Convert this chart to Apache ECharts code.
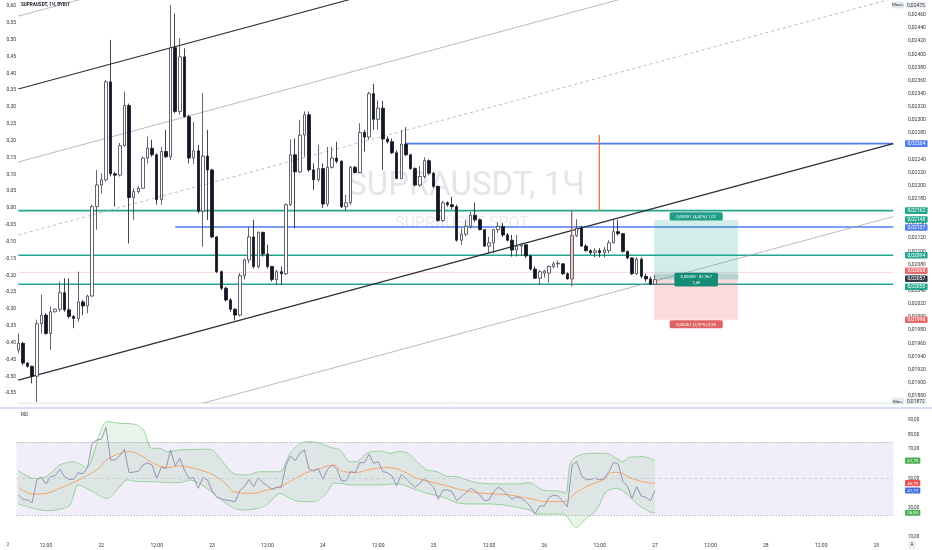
<!DOCTYPE html>
<html><head><meta charset="utf-8">
<script src="https://cdn.jsdelivr.net/npm/echarts@6/dist/echarts.min.js"></script>
<style>html,body{margin:0;padding:0;background:#fff}#c{width:932px;height:550px}</style>
</head><body><div id="c"></div>
<script>
// ---------- DATA ----------
const UNIT = 1e-5;            // prices below are in units of 0.00001
const startDay = 21, startHour = 6, nCats = 192;
// hourly candles [open, high, low, close]
const candles = [
[1950,1975,1945,1960],[1960,1962,1927,1930],[1930,1931,1923,1925],[1925,1926,1899,1910],[1910,1996,1871,1990],
[1990,2034,1975,2003],[2003,2006,1973,1975],[1975,2016,1950,2008],[2008,2013,2007,2012],[2012,2054,2008,2037],
[2037,2059,2008,2011],[2011,2059,1998,2001],[2001,2003,1983,1998],[1998,2069,1993,2023],[2023,2026,2003,2017],
[2017,2034,2006,2032],[2032,2171,2031,2168],[2168,2224,2133,2201],[2201,2219,2188,2209],[2209,2361,2206,2358],
[2358,2422,2214,2218],[2218,2221,2168,2216],[2216,2265,2214,2261],[2261,2343,2259,2322],[2322,2325,2112,2182],
[2182,2196,2148,2191],[2191,2199,2188,2196],[2196,2244,2195,2242],[2242,2275,2234,2257],[2257,2270,2244,2247],
[2247,2249,2171,2179],[2179,2259,2171,2252],[2252,2285,2242,2244],[2244,2475,2239,2410],[2410,2462,2310,2313],
[2313,2424,2308,2396],[2396,2409,2304,2305],[2305,2308,2234,2242],[2242,2297,2233,2253],[2253,2262,2158,2161],
[2161,2341,2107,2245],[2245,2285,2148,2224],[2224,2226,2120,2122],[2122,2123,2067,2069],[2069,2071,2041,2044],
[2044,2046,2024,2026],[2026,2029,2008,2012],[2012,2013,1995,2003],[2003,2067,2001,2063],[2063,2089,2057,2087],
[2087,2137,2082,2122],[2122,2148,2074,2077],[2077,2130,2074,2129],[2129,2130,2092,2096],[2096,2110,2074,2077],
[2077,2078,2054,2057],[2057,2072,2049,2069],[2069,2077,2049,2066],[2066,2173,2064,2171],[2171,2270,2169,2247],
[2247,2272,2135,2221],[2221,2300,2219,2277],[2277,2313,2244,2308],[2308,2313,2221,2224],[2224,2234,2193,2209],
[2209,2262,2206,2226],[2226,2234,2166,2172],[2172,2259,2168,2228],[2228,2259,2226,2242],[2242,2267,2234,2237],
[2237,2239,2166,2168],[2168,2186,2162,2174],[2174,2230,2171,2228],[2228,2230,2219,2220],[2220,2295,2219,2281],
[2281,2285,2252,2274],[2274,2343,2270,2340],[2340,2355,2285,2301],[2301,2330,2285,2318],[2318,2329,2224,2271],
[2271,2275,2264,2267],[2267,2272,2248,2250],[2250,2254,2210,2211],[2211,2285,2210,2263],[2263,2289,2245,2247],
[2247,2248,2224,2226],[2226,2228,2199,2201],[2201,2230,2198,2214],[2214,2243,2211,2238],[2238,2240,2216,2219],
[2219,2221,2196,2199],[2199,2200,2145,2147],[2147,2177,2145,2174],[2174,2176,2168,2171],[2171,2183,2164,2168],
[2168,2171,2115,2117],[2117,2135,2110,2126],[2126,2148,2123,2138],[2138,2160,2135,2155],[2155,2174,2145,2148],
[2148,2150,2132,2133],[2133,2134,2107,2108],[2108,2122,2097,2113],[2113,2134,2097,2133],[2133,2145,2128,2138],
[2138,2143,2122,2125],[2125,2128,2115,2117],[2117,2125,2092,2102],[2102,2125,2092,2108],[2108,2113,2093,2110],
[2110,2110,2090,2093],[2093,2095,2071,2073],[2073,2077,2058,2059],[2059,2072,2050,2069],[2067,2072,2060,2070],
[2067,2079,2052,2077],[2077,2084,2074,2081],[2081,2086,2075,2082],[2081,2082,2064,2066],[2066,2068,2057,2058],
[2058,2163,2047,2124],[2124,2149,2122,2135],[2135,2139,2107,2108],[2108,2111,2100,2101],[2101,2103,2095,2098],
[2098,2105,2091,2101],[2101,2105,2091,2098],[2098,2107,2091,2102],[2101,2117,2097,2113],[2113,2148,2112,2130],
[2130,2148,2124,2127],[2127,2128,2098,2100],[2100,2101,2088,2090],[2090,2091,2064,2066],[2066,2091,2064,2088],
[2088,2091,2059,2062],[2062,2066,2054,2058],[2058,2062,2049,2050],[2050,2064,2049,2057]
];
// RSI per candle
const rsi = [
38.7,35.8,35.3,33.5,49.0,50.8,46.3,51.3,51.9,56.3,
51.3,49.4,49.4,54.0,53.1,57.6,74.0,76.3,76.8,85.0,
62.7,62.7,65.6,70.0,54.0,54.4,54.9,59.2,60.8,59.2,
50.1,57.6,56.9,69.5,58.6,63.8,55.8,50.1,50.6,43.3,
50.6,49.0,41.5,37.1,36.0,35.3,34.8,34.2,41.7,44.4,
49.4,44.4,50.6,47.2,44.9,42.6,44.0,44.0,59.2,65.4,
62.2,67.2,69.5,56.3,55.1,56.9,49.4,56.3,59.2,56.9,
48.4,48.3,54.7,54.0,60.8,60.8,66.7,60.4,61.5,54.7,
54.0,51.7,44.9,52.8,50.1,46.7,44.0,46.7,50.1,47.2,
44.0,35.8,42.1,42.1,41.0,34.8,37.6,40.3,43.3,41.7,
38.7,34.8,35.3,41.0,44.0,42.1,38.7,35.8,37.6,36.4,
34.2,30.7,25.7,31.2,31.2,37.1,38.7,38.0,34.2,30.7,
59.2,61.5,52.4,49.0,49.4,50.1,49.0,50.1,54.7,61.0,
59.9,47.8,44.9,36.4,44.4,38.0,37.1,34.8,41.8
];
// RSI moving average [candle index, value]
const rsiMA = [[0,44.0],[3.3,39.4],[6.1,39.9],[9,43.3],[11.9,47.2],[14.8,51.7],[17.7,57.6],[19.2,62.7],[22,67.2],[24.2,68.3],
[26.4,66.1],[29.3,60.4],[32.2,57.6],[35,58.6],[36.5,58.1],[39.4,55.8],[42.3,52.4],[45.2,45.6],[46.6,41.0],[50.9,39.9],
[53.8,42.1],[56.7,44.4],[59.6,49.4],[62.5,54.0],[65.4,56.9],[68.3,59.2],[70.5,54.7],[73.3,54.2],[76.2,56.3],[80.6,57.4],
[83.5,54.7],[86.4,50.1],[89.2,47.8],[92.1,45.6],[95,43.1],[97.9,41.0],[100.8,39.9],[103.6,39.4],[106.5,38.7],[109.4,37.1],
[112.3,35.3],[113.7,34.2],[118.1,34.2],[120.9,40.3],[123.8,45.6],[126.7,49.0],[128.9,54.2],[130.3,54.0],[132.4,50.8],[135.3,47.8],[138,46.79]];
// RSI bollinger bands [candle index, value]
const bandUpper = [[0,55.4],[3.3,50.1],[6.1,51.3],[9,59.2],[11.9,61.5],[14.8,57.6],[17.7,80.9],[19.2,88.9],[22,87.7],[24.9,87.3],
[27.1,83.2],[28.9,70.6],[30.7,70.6],[32.2,68.3],[35,69.5],[39.4,70.0],[41.6,70.0],[43.7,63.8],[46.6,53.5],[49.5,52.4],
[52.4,54.7],[56.7,54.7],[58.9,67.2],[61.1,74.0],[63.2,75.2],[65.4,74.0],[67.6,71.3],[69.7,69.5],[71.9,61.5],[73.3,61.5],
[75.5,67.2],[78.4,68.8],[80.6,67.2],[82,68.3],[84.2,67.7],[86.4,61.5],[88.5,55.8],[90.7,54.7],[92.8,51.7],[95,51.3],
[97.2,49.0],[99.3,47.2],[103.6,46.3],[107.9,46.3],[110.8,47.2],[113.7,42.1],[116.6,41.5],[118.6,40.3],[119.5,59.2],[120.9,64.9],
[123.8,67.2],[127.4,67.2],[129.6,63.8],[131,61.5],[132.4,64.5],[135.3,64.9],[138,62.18]];
const bandLower = [[0,32.6],[3.3,29.6],[6.1,28.0],[9,28.9],[11.2,31.9],[13,45.6],[15.5,42.1],[19.2,36.4],[22,44.4],[23.5,49.0],
[26.4,47.8],[29.3,47.8],[32.2,47.2],[35,47.2],[37.2,49.0],[39.4,46.3],[42.3,39.9],[45.2,32.6],[48.1,28.5],[50.9,28.9],
[53.8,31.9],[56.7,39.9],[58.9,36.4],[61.1,34.2],[64,34.2],[66.8,39.9],[68.3,46.7],[69.7,46.7],[71.9,45.6],[74.8,45.6],
[78.4,45.6],[82,46.3],[86.4,42.1],[89.2,39.4],[92.1,37.1],[95,33.5],[97.9,32.6],[102.2,32.6],[105.1,31.9],[108,30.3],
[110.8,28.5],[112.3,25.7],[115.2,25.7],[118.1,25.7],[120.9,16.6],[123.1,22.8],[125.3,28.5],[127.4,41.0],[129.6,43.3],[131.7,39.9],
[133.9,33.0],[136.8,27.3],[138,26.59]];
// drawings (candle index, price units)
const levelsGreen = [2162, 2094, 2050];
const levelPink = 2068;
const levelsBlue = [[83.8, 2264], [34, 2137]];   // [start index, price]
const drawEnd = 189.6;
const channelStart = [2458, 2347, 2236, 2125, 1904, 1793]; // at index 0
const channelEnd   = [2818, 2707, 2596, 2485, 2264, 2153]; // at drawEnd
const channelStyle = ['thin','bold','thin','dash','bold','thin'];
const vOrange = [125.9, 2277, 2162];
const vRed = [120, 2163, 2047];
const pos = {k0: 137.8, k1: 156, entry: 2057, target: 2148, stop: 1996, strip: 2066,
  tText: '0,00091 (4,42%) 1,07', mText: '0,00009 · 81,967\n1,49', sText: '0,00061 (2,97%) 0,95'};
const priceTags = [
  {v:2264,t:'0,02264',bg:'#4f7cf0'},{v:2162,t:'0,02162',bg:'#22a58e'},{v:2148,t:'0,02148',bg:'#22a58e'},
  {v:2137,t:'0,02137',bg:'#4f7cf0'},{v:2094,t:'0,02094',bg:'#22a58e'},{v:2068,t:'0,02068',bg:'#e86a6a'},
  {v:2057,t:'0,02057',bg:'#363a45'},{v:2050,t:'0,02050',bg:'#22a58e'},{v:1996,t:'0,01996',bg:'#e86a6a'}];
const extremeTags = [{v:2475,t:'0,02475',pre:'Макс.'},{v:1872,t:'0,01872',pre:'Мин.'}];
const rsiTags = [{v:62.18,t:'62,18',bg:'#4caf50'},{v:46.79,t:'46,79',bg:'#ef5350'},{v:41.79,t:'41,79',bg:'#3f6fe0'},{v:26.59,t:'26,59',bg:'#4caf50'}];
const priceTicks = [1880,1900,1920,1940,1960,1980,2000,2020,2040,2060,2080,2100,2120,2140,2160,2180,2200,2220,2240,2260,2280,2300,2320,2340,2360,2380,2400,2420,2440,2460];
const pctTicks = [-0.55,-0.50,-0.45,-0.40,-0.35,-0.30,-0.25,-0.20,-0.15,-0.10,-0.05,0,0.05,0.10,0.15,0.20,0.25,0.30,0.35,0.40,0.45,0.50,0.55,0.60];
const rsiTicks = [10,25.74,30,50,61.15,70,80,90];
const rsiLevels = [75, 50, 25];

// ---------- BUILD ----------
const FONT = 'Roboto, "Liberation Sans", sans-serif';
const cats = [];
for (let k = 0; k < nCats; k++) {
  const h = startHour + k; cats.push({day: startDay + Math.floor(h / 24), hour: h % 24});
}
const catLabels = cats.map(c => c.hour === 0 ? String(c.day) : (c.hour < 10 ? '0' : '') + c.hour + ':00');
const P = u => u * UNIT;

function spread(items, gap) {
  items.sort((a, b) => a.y - b.y);
  let groups = items.map(it => ({its: [it], top: it.y}));
  let changed = true;
  while (changed) {
    changed = false;
    for (let i = 0; i < groups.length - 1; i++) {
      const a = groups[i], b = groups[i + 1];
      if (a.top + a.its.length * gap > b.top + 0.01) {
        const all = a.its.concat(b.its);
        const mean = all.reduce((s, it) => s + it.y, 0) / all.length;
        groups.splice(i, 2, {its: all, top: mean - (all.length - 1) * gap / 2});
        changed = true; break;
      }
    }
  }
  groups.forEach(g => g.its.forEach((it, j) => it.py = g.top + j * gap));
  return items;
}

function tagRender(list, conv, fontSize, h, gap) {
  return function (params, api) {
    const cs = params.coordSys;
    const x0 = cs.x + cs.width + 3;
    const items = spread(list.map(t => Object.assign({}, t, {y: api.coord([0, conv(t.v)])[1]})), gap);
    const ch = [];
    items.forEach(t => {
      const w = t.t.length * fontSize * 0.56 + 3;
      ch.push({type: 'rect', shape: {x: x0, y: t.py - h / 2, width: w, height: h, r: 1}, style: {fill: t.bg}});
      ch.push({type: 'text', style: {x: x0 + w / 2, y: t.py + 0.3, text: t.t, fill: '#fff', font: fontSize + 'px ' + FONT, align: 'center', verticalAlign: 'middle'}});
    });
    return {type: 'group', children: ch};
  };
}

const series = [];
// candles
series.push({
  type: 'candlestick', xAxisIndex: 0, yAxisIndex: 0, z: 5, barWidth: 3,
  data: candles.map(c => [P(c[0]), P(c[3]), P(c[2]), P(c[1])]),
  itemStyle: {color: '#ffffff', color0: '#131722', borderColor: '#3a3e4a', borderColor0: '#131722', borderWidth: 0.8}
});
function seg(pts, color, width, type, z) {
  series.push({type: 'line', xAxisIndex: 1, yAxisIndex: 0, data: pts, symbol: 'none', silent: true, z: z || 3,
    lineStyle: {color, width, type: type || 'solid'}});
}
levelsGreen.forEach(v => seg([[0, P(v)], [drawEnd, P(v)]], '#22a58e', 1.6));
seg([[0, P(levelPink)], [drawEnd, P(levelPink)]], '#f6cbd3', 0.8);
levelsBlue.forEach(b => seg([[b[0], P(b[1])], [drawEnd, P(b[1])]], '#4f7cf0', 1.6));
channelStart.forEach((s, i) => {
  const st = channelStyle[i];
  seg([[0, P(s)], [drawEnd, P(channelEnd[i])]],
    st === 'bold' ? '#2a2e39' : '#9a9da6', st === 'bold' ? 1.1 : 0.7, st === 'dash' ? [3, 3] : 'solid', 4);
});
seg([[vOrange[0], P(vOrange[1])], [vOrange[0], P(vOrange[2])]], '#ec6a2c', 1.2, 'solid', 6);
seg([[vRed[0], P(vRed[1])], [vRed[0], P(vRed[2])]], '#ef7b7b', 0.9, 'solid', 6);
// position tool
series.push({
  type: 'custom', xAxisIndex: 1, yAxisIndex: 0, z: 7, silent: true, data: [[pos.k0, P(pos.entry)]],
  renderItem: (params, api) => {
    const tl = api.coord([pos.k0, P(pos.target)]), en = api.coord([pos.k1, P(pos.entry)]);
    const st = api.coord([pos.k1, P(pos.stop)]), sp = api.coord([pos.k0, P(pos.strip)]);
    const x0 = tl[0], x1 = en[0], w = x1 - x0, cx = (x0 + x1) / 2;
    const fs = 4.3;
    const lab = (text, y, bg, lines) => {
      const len = Math.max.apply(null, text.split('\n').map(s => s.length));
      const lw = len * fs * 0.56 + 5, lh = lines * 5.6 + 2.5;
      return [{type: 'rect', shape: {x: cx - lw / 2, y: y - lh / 2, width: lw, height: lh, r: 1.5}, style: {fill: bg}},
        {type: 'text', style: {x: cx, y: y + 0.3, text, fill: '#fff', font: fs + 'px ' + FONT, align: 'center', verticalAlign: 'middle', lineHeight: 5.6}}];
    };
    return {type: 'group', children: [
      {type: 'rect', shape: {x: x0, y: tl[1], width: w, height: en[1] - tl[1]}, style: {fill: 'rgba(34,171,148,0.2)'}},
      {type: 'rect', shape: {x: x0, y: en[1], width: w, height: st[1] - en[1]}, style: {fill: 'rgba(242,54,69,0.18)'}},
      {type: 'rect', shape: {x: x0, y: sp[1], width: w, height: en[1] - sp[1]}, style: {fill: 'rgba(90,110,110,0.22)'}},
    ].concat(lab(pos.tText, tl[1] - 3.5, '#1f9d87', 1), lab(pos.mText, en[1], '#148c76', 2), lab(pos.sText, st[1] + 4.5, '#e06464', 1))};
  }
});
// price tags
series.push({type: 'custom', xAxisIndex: 1, yAxisIndex: 0, z: 20, silent: true, clip: false, data: [[0, P(2100)]],
  renderItem: tagRender(priceTags, P, 5, 6.6, 8)});
series.push({type: 'custom', xAxisIndex: 1, yAxisIndex: 0, z: 20, silent: true, clip: false, data: [[0, P(2100)]],
  renderItem: (params, api) => {
    const cs = params.coordSys, x0 = cs.x + cs.width;
    const ch = [];
    extremeTags.forEach(t => {
      const y = api.coord([0, P(t.v)])[1];
      ch.push({type: 'rect', shape: {x: x0 - 10, y: y - 3.3, width: 12, height: 6.6}, style: {fill: '#e3e8f3'}});
      ch.push({type: 'text', style: {x: x0 - 4, y: y + 0.3, text: t.pre, fill: '#333', font: '4.3px ' + FONT, align: 'center', verticalAlign: 'middle'}});
      ch.push({type: 'rect', shape: {x: x0 + 3, y: y - 3.3, width: 22, height: 6.6}, style: {fill: '#eef0f4'}});
      ch.push({type: 'text', style: {x: x0 + 14, y: y + 0.3, text: t.t, fill: '#333', font: '5px ' + FONT, align: 'center', verticalAlign: 'middle'}});
    });
    return {type: 'group', children: ch};
  }});

// RSI pane
series.push({type: 'line', xAxisIndex: 3, yAxisIndex: 2, data: [], symbol: 'none', silent: true,
  markArea: {silent: true, itemStyle: {color: 'rgba(126,87,194,0.1)'}, data: [[{coord: [-0.4, rsiLevels[0]]}, {coord: [drawEnd, rsiLevels[2]]}]]},
  markLine: {silent: true, symbol: 'none', label: {show: false},
    lineStyle: {color: '#b2b5be', width: 0.8, type: [2, 2]},
    data: rsiLevels.map((v, i) => [{coord: [-0.4, v], lineStyle: {type: i === 1 ? [3, 3] : [1.5, 1.5], color: i === 1 ? '#c5c7cf' : '#a5a8b1'}}, {coord: [drawEnd, v]}])}
});
series.push({type: 'custom', xAxisIndex: 3, yAxisIndex: 2, z: 2, silent: true, data: [[0, 50]],
  renderItem: (params, api) => {
    const pts = bandUpper.map(p => api.coord(p)).concat(bandLower.slice().reverse().map(p => api.coord(p)));
    return {type: 'polygon', shape: {points: pts}, style: {fill: 'rgba(76,175,80,0.12)'}};
  }});
function rline(data, color, width, smooth) {
  series.push({type: 'line', xAxisIndex: 3, yAxisIndex: 2, data, symbol: 'none', silent: true, z: 4, smooth: smooth || false,
    lineStyle: {color, width}});
}
rline(bandUpper, '#8fcf92', 0.9, 0.3);
rline(bandLower, '#8fcf92', 0.9, 0.3);
rline(rsiMA, '#f5a66b', 1, 0.4);
rline(rsi.map((v, i) => [i, v]), '#8f89b3', 0.9);
series.push({type: 'custom', xAxisIndex: 3, yAxisIndex: 2, z: 20, silent: true, clip: false, data: [[0, 50]],
  renderItem: tagRender(rsiTags, v => v, 4.4, 6.2, 7)});

const fmtComma = d => v => v.toFixed(d).replace('.', ',');
const option = {
  animation: false,
  backgroundColor: '#ffffff',
  textStyle: {fontFamily: FONT},
  grid: [
    {left: 16, right: 30, top: 0, height: 403},
    {left: 16, right: 30, top: 410, height: 130}
  ],
  xAxis: [
    {type: 'category', gridIndex: 0, data: catLabels, boundaryGap: true, show: false},
    {type: 'value', gridIndex: 0, min: -0.5, max: nCats - 0.5, show: false},
    {type: 'category', gridIndex: 1, data: catLabels, boundaryGap: true,
      axisLine: {show: false}, axisTick: {show: false}, splitLine: {show: false},
      axisLabel: {interval: (i) => cats[i].hour === 0 || cats[i].hour === 12, margin: 3, fontSize: 5, color: '#333', fontFamily: FONT}},
    {type: 'value', gridIndex: 1, min: -0.5, max: nCats - 0.5, show: false}
  ],
  yAxis: [
    {type: 'value', gridIndex: 0, position: 'right', min: 0.018692, max: 0.024826, splitLine: {show: false},
      axisLine: {show: false}, axisTick: {show: false},
      axisLabel: {customValues: priceTicks.map(P), formatter: fmtComma(5), fontSize: 5, color: '#333', margin: 6, fontFamily: FONT}},
    {type: 'value', gridIndex: 0, position: 'left', min: -0.5794, max: 0.6178, splitLine: {show: false},
      axisLine: {show: false}, axisTick: {show: false},
      axisLabel: {customValues: pctTicks, formatter: fmtComma(2), fontSize: 5, color: '#333', margin: 0, fontFamily: FONT}},
    {type: 'value', gridIndex: 1, position: 'right', min: 7.95, max: 96.84, splitLine: {show: false},
      axisLine: {show: false}, axisTick: {show: false},
      axisLabel: {customValues: rsiTicks, formatter: fmtComma(2), fontSize: 4.6, color: '#333', margin: 6, fontFamily: FONT}}
  ],
  graphic: [
    {type: 'text', z: -10, left: 'center', style: {x: 462, y: 187, text: 'SUPRAUSDT, 1Ч', fill: '#e4e5e8', font: '33px ' + FONT, align: 'center', verticalAlign: 'middle'}, position: [0, 0]},
    {type: 'text', z: -10, style: {x: 462, y: 224, text: 'SUPRAUSDT SPOT', fill: '#e9eaec', font: '16px ' + FONT, align: 'center', verticalAlign: 'middle'}},
    {type: 'text', style: {x: 21, y: 5, text: 'SUPRAUSDT, 1Ч, BYBIT', fill: '#131722', font: 'bold 4.6px ' + FONT, verticalAlign: 'middle'}},
    {type: 'text', style: {x: 21, y: 415, text: 'RSI', fill: '#131722', font: '4.6px ' + FONT, verticalAlign: 'middle'}},
    {type: 'line', shape: {x1: 18, y1: 403, x2: 893, y2: 403}, style: {stroke: '#e0e3eb', lineWidth: 1}},
    {type: 'line', shape: {x1: 0, y1: 408, x2: 932, y2: 408}, style: {stroke: '#a9bcf3', lineWidth: 1}},
    {type: 'text', style: {x: 8, y: 545, text: '2', fill: '#555', font: '5px ' + FONT, align: 'center', verticalAlign: 'middle'}},
    {type: 'circle', shape: {cx: 912, cy: 545, r: 3.5}, style: {fill: '#f0f3fa', stroke: '#c8ccd6', lineWidth: 0.5}},
    {type: 'text', style: {x: 912, y: 545.3, text: 'A', fill: '#333', font: '4.5px ' + FONT, align: 'center', verticalAlign: 'middle'}}
  ],
  series
};
const chart = echarts.init(document.getElementById('c'), null, {renderer: 'canvas'});
chart.setOption(option);
</script></body></html>
